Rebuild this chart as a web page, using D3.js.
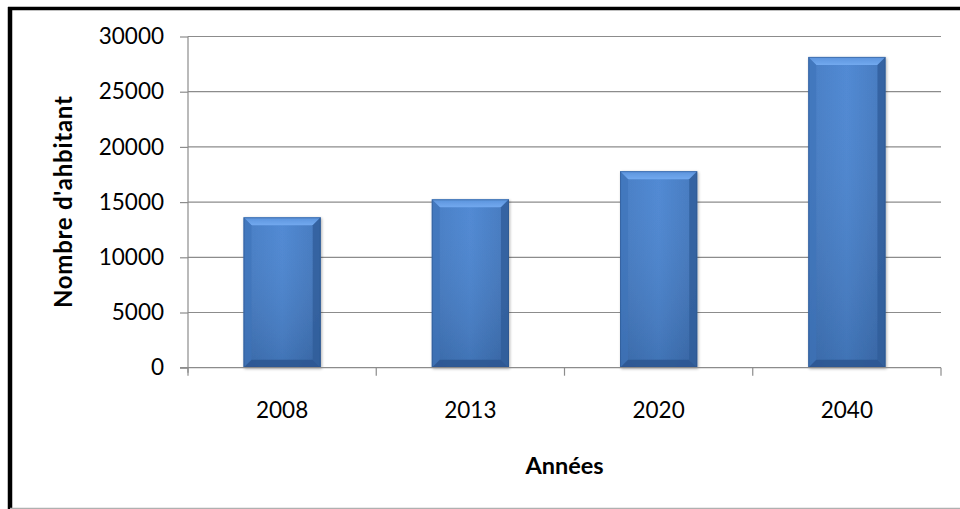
<!DOCTYPE html>
<html>
<head>
<meta charset="utf-8">
<script src="https://cdn.jsdelivr.net/npm/d3@7"></script>
<style>
  html, body { margin: 0; padding: 0; background: #fff; }
  svg { display: block; }
  text { font-family: Lato, "Open Sans", sans-serif; fill: #000; }
</style>
</head>
<body>
<svg id="chart" width="960" height="509"></svg>
<script>
const categories = ["2008", "2013", "2020", "2040"];
const values = [13620, 15250, 17800, 28150];
const yTicks = [0, 5000, 10000, 15000, 20000, 25000, 30000];
const xTitle = "Années";
const yTitle = "Nombre d'ahbitant";

const svg = d3.select("#chart");
const W = 960, H = 509;
const m = { left: 188, right: 19, top: 36.5, bottom: 141.3 };
const pw = W - m.left - m.right;
const ph = H - m.top - m.bottom;

// frame
svg.append("rect").attr("x", 0).attr("y", 0).attr("width", W).attr("height", H).attr("fill", "#fff");
svg.append("line").attr("x1", 8).attr("x2", W).attr("y1", 8.5).attr("y2", 8.5).attr("stroke", "#000").attr("stroke-width", 3.5);
svg.append("line").attr("x1", 10).attr("x2", 10).attr("y1", 7).attr("y2", H).attr("stroke", "#000").attr("stroke-width", 4.5);
svg.append("line").attr("x1", 10).attr("x2", W).attr("y1", 508.3).attr("y2", 508.3).attr("stroke", "#b0b0b0").attr("stroke-width", 1.2);

const x = d3.scaleBand().domain(categories).range([m.left, m.left + pw]).paddingInner(0.59).paddingOuter(0.295);
const y = d3.scaleLinear().domain([0, 30000]).range([m.top + ph, m.top]);

const defs = svg.append("defs");
const gMain = defs.append("linearGradient").attr("id", "gMain").attr("x1", 0).attr("x2", 1).attr("y1", 0).attr("y2", 0);
gMain.append("stop").attr("offset", "0%").attr("stop-color", "#4279c2");
gMain.append("stop").attr("offset", "50%").attr("stop-color", "#4a85d2");
gMain.append("stop").attr("offset", "100%").attr("stop-color", "#3f74bb");
const gV = defs.append("linearGradient").attr("id", "gV").attr("x1", 0).attr("x2", 0).attr("y1", 0).attr("y2", 1);
gV.append("stop").attr("offset", "0%").attr("stop-color", "#fff").attr("stop-opacity", 0.04);
gV.append("stop").attr("offset", "100%").attr("stop-color", "#000").attr("stop-opacity", 0.14);
const gTop = defs.append("linearGradient").attr("id", "gTop").attr("x1", 0).attr("x2", 0).attr("y1", 0).attr("y2", 1);
gTop.append("stop").attr("offset", "0%").attr("stop-color", "#5b93dc");
gTop.append("stop").attr("offset", "100%").attr("stop-color", "#72a9ef");
const shadow = defs.append("filter").attr("id", "sh").attr("x", "-20%").attr("y", "-10%").attr("width", "140%").attr("height", "120%");
shadow.append("feGaussianBlur").attr("in", "SourceAlpha").attr("stdDeviation", 1.5).attr("result", "b");
shadow.append("feOffset").attr("in", "b").attr("dx", 1).attr("dy", 1).attr("result", "o");
shadow.append("feComponentTransfer").attr("in", "o").attr("result", "o2").append("feFuncA").attr("type", "linear").attr("slope", 0.3);
const mg = shadow.append("feMerge");
mg.append("feMergeNode").attr("in", "o2");
mg.append("feMergeNode").attr("in", "SourceGraphic");

// gridlines
svg.append("g").selectAll("line").data(yTicks.filter(d => d > 0)).join("line")
  .attr("x1", m.left).attr("x2", m.left + pw)
  .attr("y1", d => y(d)).attr("y2", d => y(d))
  .attr("stroke", "#8c8c8c").attr("stroke-width", 1.2);

// bars
const b = 8;
const bars = svg.append("g").selectAll("g").data(categories.map((c, i) => ({ c, v: values[i] }))).join("g")
  .attr("filter", "url(#sh)");
bars.each(function(d) {
  const g = d3.select(this);
  const x0 = x(d.c), x1 = x0 + x.bandwidth(), y0 = y(d.v), y1 = y(0);
  g.append("rect").attr("x", x0).attr("y", y0).attr("width", x1 - x0).attr("height", y1 - y0).attr("fill", "url(#gMain)");
  g.append("rect").attr("x", x0).attr("y", y0).attr("width", x1 - x0).attr("height", y1 - y0).attr("fill", "url(#gV)");
  // top bevel
  g.append("polygon").attr("points", [[x0, y0], [x1, y0], [x1 - b, y0 + b], [x0 + b, y0 + b]].join(" ")).attr("fill", "url(#gTop)");
  // left bevel
  g.append("polygon").attr("points", [[x0, y0], [x0 + b, y0 + b], [x0 + b, y1 - b], [x0, y1]].join(" ")).attr("fill", "#3e73b9").attr("opacity", 0.6);
  // right bevel
  g.append("polygon").attr("points", [[x1, y0], [x1, y1], [x1 - b, y1 - b], [x1 - b, y0 + b]].join(" ")).attr("fill", "#2f5c98").attr("opacity", 0.75);
  // bottom bevel
  g.append("polygon").attr("points", [[x0, y1], [x1, y1], [x1 - b, y1 - b], [x0 + b, y1 - b]].join(" ")).attr("fill", "#2d5892").attr("opacity", 0.9);
  g.append("rect").attr("x", x0 + 0.5).attr("y", y0 + 0.5).attr("width", x1 - x0 - 1).attr("height", y1 - y0 - 1)
    .attr("fill", "none").attr("stroke", "#2a5288").attr("stroke-width", 1).attr("opacity", 0.5);
});

// y axis
const yAxis = d3.axisLeft(y).tickValues(yTicks).tickSize(8).tickPadding(16).tickFormat(d3.format("d"));
const ya = svg.append("g").attr("transform", `translate(${m.left},0)`).call(yAxis);
ya.select(".domain").attr("stroke", "#8c8c8c").attr("stroke-width", 1.2).attr("d", `M-0,${m.top}V${y(0) + 5}`);
ya.selectAll(".tick line").attr("stroke", "#8c8c8c").attr("stroke-width", 1.2);
ya.selectAll(".tick text").attr("font-size", 22.5).attr("font-family", "Lato, sans-serif").attr("fill", "#000");

// x axis
const bandTicks = categories.map(c => x(c) - (x.step() - x.bandwidth()) / 2).concat([m.left + pw]);
const xa = svg.append("g").attr("transform", `translate(0,${y(0)})`);
xa.append("line").attr("x1", m.left - 8).attr("x2", m.left + pw).attr("y1", 0).attr("y2", 0).attr("stroke", "#8c8c8c").attr("stroke-width", 1.2);
xa.selectAll("line.tk").data(bandTicks).join("line").attr("class", "tk")
  .attr("x1", d => d).attr("x2", d => d).attr("y1", 0).attr("y2", 8).attr("stroke", "#8c8c8c").attr("stroke-width", 1.2);
xa.selectAll("text").data(categories).join("text")
  .attr("x", d => x(d) + x.bandwidth() / 2).attr("y", 50)
  .attr("text-anchor", "middle").attr("font-size", 22.5).text(d => d);

// titles
svg.append("text").attr("x", m.left + pw / 2).attr("y", 474).attr("text-anchor", "middle")
  .attr("font-size", 23.5).attr("font-weight", "bold").text(xTitle);
svg.append("text").attr("transform", `translate(72,${m.top + ph / 2}) rotate(-90)`).attr("text-anchor", "middle")
  .attr("font-size", 24).attr("font-weight", "bold").attr("textLength", 212).attr("lengthAdjust", "spacing").text(yTitle);
</script>
</body>
</html>
